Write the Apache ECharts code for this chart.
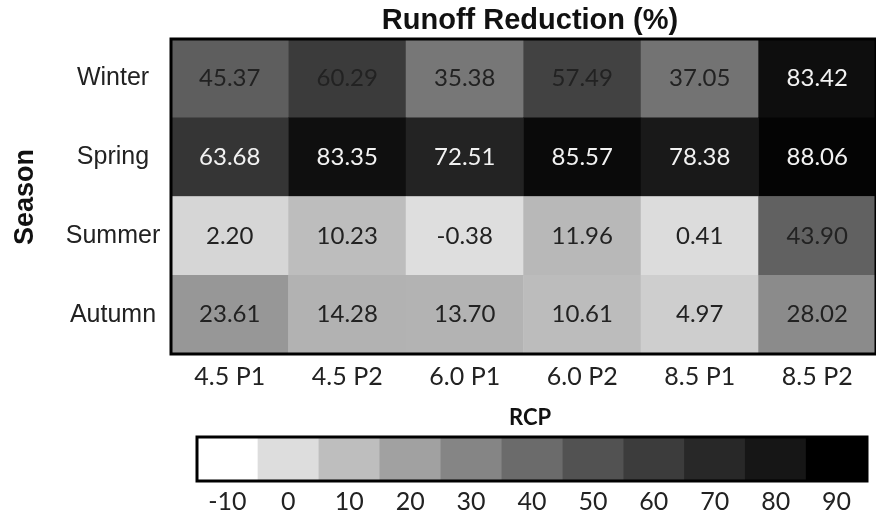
<!DOCTYPE html>
<html>
<head>
<meta charset="utf-8">
<script src="https://cdn.jsdelivr.net/npm/echarts@6/dist/echarts.min.js"></script>
<style>
html,body{margin:0;padding:0;background:#fff;}
#main{width:876px;height:517px;}
</style>
</head>
<body>
<div id="main"></div>
<script>
const seasons = ['Winter', 'Spring', 'Summer', 'Autumn'];
const scenarios = ['4.5 P1', '4.5 P2', '6.0 P1', '6.0 P2', '8.5 P1', '8.5 P2'];
const winter = [45.37, 60.29, 35.38, 57.49, 37.05, 83.42];
const spring = [63.68, 83.35, 72.51, 85.57, 78.38, 88.06];
const summer = [2.20, 10.23, -0.38, 11.96, 0.41, 43.90];
const autumn = [23.61, 14.28, 13.70, 10.61, 4.97, 28.02];
const scaleTicks = [-10, 0, 10, 20, 30, 40, 50, 60, 70, 80, 90];
const greys = ['#ffffff', '#dddddd', '#bebebe', '#a1a1a1', '#858585', '#6b6b6b', '#525252', '#3c3c3c', '#282828', '#161616', '#000000'];

const rows = [winter, spring, summer, autumn];
const cellData = [];
rows.forEach((r, yi) => r.forEach((v, xi) => cellData.push([xi, yi, v])));
const barData = scaleTicks.map((t, i) => [i, 0, t]);

const chart = echarts.init(document.getElementById('main'));
chart.setOption({
  animation: false,
  backgroundColor: '#ffffff',
  grid: [
    { left: 171, top: 39, width: 720, height: 315, show: true, borderColor: '#000', borderWidth: 3, backgroundColor: 'transparent', z: 5 },
    { left: 197, top: 437, width: 670, height: 44, show: true, borderColor: '#000', borderWidth: 3, backgroundColor: 'transparent', z: 5 }
  ],
  xAxis: [
    { type: 'category', gridIndex: 0, data: scenarios, axisLine: { show: false }, axisTick: { show: false }, splitLine: { show: false },
      axisLabel: { margin: 10, fontFamily: 'Lato', fontSize: 25, color: '#222' } },
    { type: 'category', gridIndex: 1, data: scaleTicks.map(String), axisLine: { show: false }, axisTick: { show: false }, splitLine: { show: false },
      axisLabel: { margin: 8, fontFamily: 'Lato', fontSize: 25, color: '#222' } }
  ],
  yAxis: [
    { type: 'category', gridIndex: 0, data: seasons, inverse: true, axisLine: { show: false }, axisTick: { show: false }, splitLine: { show: false },
      axisLabel: { margin: 58, align: 'center', fontFamily: 'Liberation Sans', fontSize: 25, color: '#222' } },
    { type: 'category', gridIndex: 1, data: [''], show: false }
  ],
  visualMap: {
    show: false, type: 'continuous', min: -10, max: 90, seriesIndex: [0, 1], dimension: 2,
    inRange: { color: greys }
  },
  series: [
    { type: 'heatmap', xAxisIndex: 0, yAxisIndex: 0, z: 1,
      data: cellData.map(d => ({ value: d, label: { color: d[2] >= 62 ? '#f2f2f2' : '#222' } })),
      itemStyle: { borderWidth: 0 },
      label: { show: true, fontFamily: 'Lato', fontSize: 24,
        formatter: p => p.value[2].toFixed(2) },
      emphasis: { disabled: true }
    },
    { type: 'heatmap', xAxisIndex: 1, yAxisIndex: 1, data: barData, z: 1, itemStyle: { borderWidth: 0 }, emphasis: { disabled: true } }
  ],
  graphic: [
    { type: 'text', x: 530, y: 21, style: { text: 'Runoff Reduction (%)', fontFamily: 'Liberation Sans', fontWeight: 'bold', fontSize: 29, fill: '#111', textAlign: 'center', textVerticalAlign: 'middle' } },
    { type: 'text', x: 26, y: 197, rotation: Math.PI / 2, style: { text: 'Season', fontFamily: 'Liberation Sans', fontWeight: 'bold', fontSize: 27, fill: '#111', textAlign: 'center', textVerticalAlign: 'middle' } },
    { type: 'text', x: 530, y: 418, style: { text: 'RCP', fontFamily: 'Lato', fontWeight: 'bold', fontSize: 22, fill: '#111', textAlign: 'center', textVerticalAlign: 'middle' } }
  ]
});
</script>
</body>
</html>
